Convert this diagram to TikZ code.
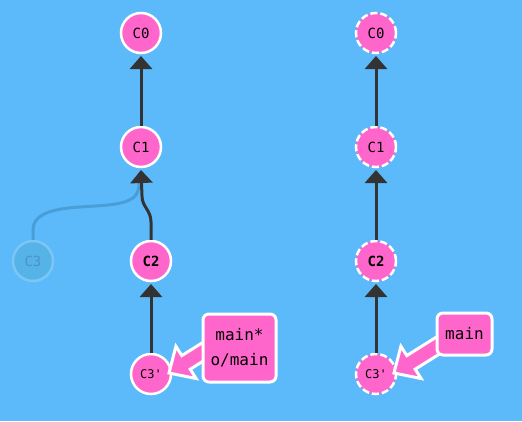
\documentclass[tikz,border=0pt]{standalone}
\usepackage{fontspec}
\setmonofont{DejaVu Sans Mono}
\usetikzlibrary{arrows.meta}
\definecolor{bg}{HTML}{5CBAFA}
\definecolor{pinkc}{HTML}{FF66CC}
\definecolor{edgec}{HTML}{333333}
\definecolor{ghostfill}{HTML}{55B3E8}
\definecolor{ghostline}{HTML}{7CC6F4}
\definecolor{ghosttext}{HTML}{4A92C8}
\definecolor{ghostcurve}{HTML}{4A9DD6}
\tikzset{
  commit/.style={circle, fill=pinkc, draw=white, line width=2.5pt, minimum size=40pt, inner sep=0pt, font=\ttfamily\fontsize{14}{14}\selectfont},
  dcommit/.style={commit, dash pattern=on 7pt off 3pt},
  ghost/.style={circle, fill=ghostfill, draw=ghostline, line width=2.5pt, minimum size=40pt, inner sep=0pt, text=ghosttext, font=\ttfamily\fontsize{14}{14}\selectfont},
  parent/.style={draw=edgec, line width=3pt, -{Triangle[width=22pt,length=13pt]}},
  branchbox/.style={rectangle, rounded corners=6pt, fill=pinkc, draw=white, line width=3pt, align=center, font=\ttfamily\fontsize{16}{25}\selectfont, inner sep=0pt},
  fatarrow/.style={fill=pinkc, draw=white, line width=3pt, line join=miter},
  boldc/.style={font=\ttfamily\bfseries\fontsize{14}{14}\selectfont},
  smallc/.style={font=\ttfamily\fontsize{12}{12}\selectfont}
}
\begin{document}
\begin{tikzpicture}[x=1pt,y=-1pt]
\fill[bg] (0,0) rectangle (522,421);
\useasboundingbox (0,0) rectangle (522,421);
% left tree
\node[commit] (L0) at (141,33) {C0};
\node[commit] (L1) at (141,147) {C1};
\node[commit, boldc] (L2) at (151,261) {C2};
\node[commit, smallc] (L3) at (151,374) {C3'};
\node[ghost] (G3) at (33,261) {C3};
\coordinate (L1b) at (141,170);
\coordinate (L0b) at (141,56);
\coordinate (L2b) at (151,284);
\draw[ghostcurve, line width=3pt] (G3.north) -- (33,230) .. controls (33,205) and (80,208) .. (108,205) .. controls (134,202) and (139,196) .. (139,183);
\draw[parent] (L1.north) -- (L0b);
\draw[parent] (L2.north) -- (151,222) .. controls (151,210) and (142,207) .. (142,196) -- (L1b);
\draw[parent] (L3.north) -- (L2b);
% left label
\draw[fatarrow] (169,373) -- (175.9,346.3) -- (181.8,355.6) -- (215.7,334.4) -- (224.1,348) -- (190.2,369.2) -- (196.1,378.5) -- cycle;
\node[branchbox, minimum width=73pt, minimum height=68pt] (LB) at (239.5,348) {main*\\o/main};
% right tree
\node[dcommit] (R0) at (376,33) {C0};
\node[dcommit] (R1) at (376,147) {C1};
\node[dcommit, boldc] (R2) at (376,261) {C2};
\node[dcommit, smallc] (R3) at (376,374) {C3'};
\coordinate (R0b) at (376,56);
\coordinate (R1b) at (376,170);
\coordinate (R2b) at (376,284);
\draw[parent] (R1.north) -- (R0b);
\draw[parent] (R2.north) -- (R1b);
\draw[parent] (R3.north) -- (R2b);
\draw[fatarrow] (394,373) -- (400.9,346.3) -- (406.8,355.6) -- (440.7,334.4) -- (449.1,348) -- (415.2,369.2) -- (421.1,378.5) -- cycle;
\node[branchbox, minimum width=55pt, minimum height=42pt] (RB) at (464.5,334) {main};
\end{tikzpicture}
\end{document}
